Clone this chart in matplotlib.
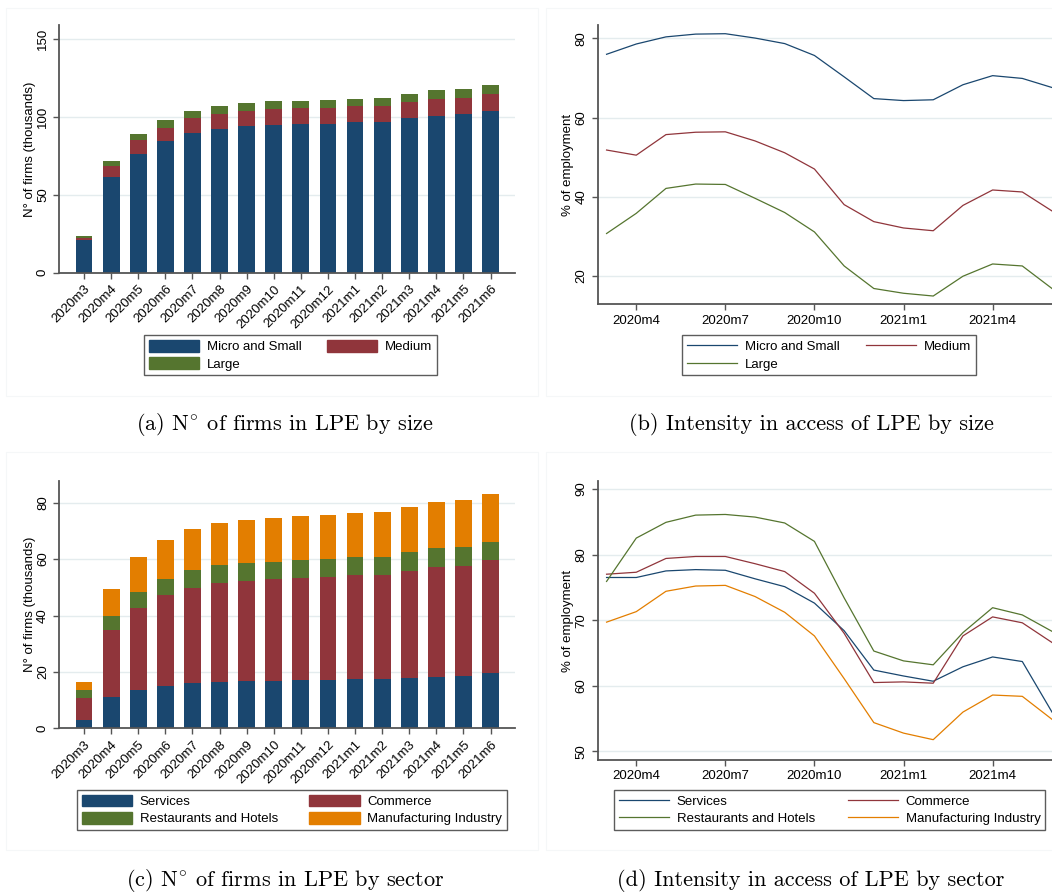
import numpy as np
import matplotlib
matplotlib.use('Agg')
import matplotlib.pyplot as plt

plt.rcParams['font.family'] = ['Liberation Sans', 'DejaVu Sans']
plt.rcParams['mathtext.fontset'] = 'cm'

months = ['2020m3', '2020m4', '2020m5', '2020m6', '2020m7', '2020m8', '2020m9',
          '2020m10', '2020m11', '2020m12', '2021m1', '2021m2', '2021m3',
          '2021m4', '2021m5', '2021m6']

# (a) cumulative tops of stacked bars, thousands of firms
size_micro_top = [20.9, 61.4, 76.2, 84.3, 89.6, 92.0, 93.9, 94.5, 95.2, 95.6, 96.4, 96.4, 99.2, 100.7, 101.6, 103.5]
size_medium_top = [22.4, 68.3, 84.9, 93.0, 99.2, 102.0, 103.5, 104.8, 105.4, 105.4, 106.7, 107.3, 109.7, 111.8, 112.4, 114.4]
size_large_top = [23.3, 71.5, 88.8, 97.7, 103.7, 106.7, 108.6, 109.9, 110.5, 110.7, 111.8, 112.4, 115.0, 117.1, 118.2, 120.3]

# (b) % of employment by size
int_micro = [76.0, 78.6, 80.4, 81.1, 81.2, 80.1, 78.7, 75.7, 70.3, 64.8, 64.3, 64.5, 68.3, 70.6, 69.9, 67.6]
int_medium = [51.8, 50.5, 55.7, 56.3, 56.4, 54.1, 51.1, 47.0, 38.0, 33.7, 32.1, 31.4, 37.8, 41.7, 41.2, 36.4]
int_large = [30.7, 35.8, 42.1, 43.2, 43.1, 39.6, 36.0, 31.1, 22.5, 16.8, 15.6, 14.9, 19.9, 23.0, 22.5, 16.8]

# (c) cumulative tops of stacked bars by sector
sec_services_top = [3.1, 11.1, 13.7, 15.1, 16.2, 16.5, 16.9, 16.9, 17.3, 17.3, 17.6, 17.6, 18.0, 18.2, 18.6, 19.7]
sec_commerce_top = [10.9, 34.9, 42.8, 47.3, 49.9, 51.7, 52.4, 53.1, 53.4, 53.7, 54.3, 54.5, 55.9, 57.3, 57.7, 59.7]
sec_rest_top = [13.5, 40.0, 48.3, 53.0, 56.1, 57.8, 58.6, 59.1, 59.7, 59.9, 60.6, 60.8, 62.5, 63.9, 64.3, 66.1]
sec_manuf_top = [16.4, 49.5, 60.8, 66.8, 70.7, 72.8, 73.9, 74.6, 75.3, 75.7, 76.4, 76.7, 78.5, 80.3, 81.0, 83.1]

# (d) % of employment by sector
int_services = [76.5, 76.5, 77.5, 77.7, 77.6, 76.3, 75.1, 72.6, 68.4, 62.4, 61.5, 60.7, 62.9, 64.4, 63.7, 56.0]
int_commerce = [77.0, 77.3, 79.4, 79.7, 79.7, 78.6, 77.4, 74.1, 68.0, 60.5, 60.6, 60.4, 67.6, 70.5, 69.6, 66.6]
int_rest = [75.9, 82.5, 84.9, 86.0, 86.1, 85.7, 84.8, 82.0, 73.4, 65.3, 63.8, 63.2, 68.1, 71.9, 70.8, 68.3]
int_manuf = [69.7, 71.3, 74.4, 75.2, 75.3, 73.6, 71.2, 67.6, 61.1, 54.4, 52.8, 51.8, 56.0, 58.6, 58.4, 54.9]

line_ticks = [1, 4, 7, 10, 13]

NAVY = '#1a476f'
MAROON = '#90353b'
GREEN = '#55752f'
ORANGE = '#e37e00'
GRID = '#e4ecee'
SPINE = '#555555'
FS = 9.5

x = np.arange(len(months))

fig = plt.figure(figsize=(10.52, 8.93), dpi=100)

# faint outer borders of each graph region
for x0, y0, w, h in [(6, 8, 532, 388), (546, 8, 520, 388), (6, 452, 532, 398), (546, 452, 520, 398)]:
    fig.patches.append(plt.Rectangle((x0 / 1052, 1 - (y0 + h) / 893), w / 1052, h / 893,
                                     transform=fig.transFigure, fill=False,
                                     edgecolor='#f5f7f8', lw=0.8))


def style(ax, yticks):
    for s in ['top', 'right']:
        ax.spines[s].set_visible(False)
    for s in ['left', 'bottom']:
        ax.spines[s].set_color(SPINE)
        ax.spines[s].set_linewidth(1.3)
    ax.set_yticks(yticks)
    ax.yaxis.grid(True, color=GRID, lw=1.0)
    ax.set_axisbelow(True)
    ax.tick_params(colors=SPINE, labelcolor='black', labelsize=FS, length=4, width=1)
    plt.setp(ax.get_yticklabels(), rotation=90, va='center')


def bars(ax, tops, colors):
    bottom = np.zeros(len(months))
    for top, c in zip(tops, colors):
        top = np.array(top)
        ax.bar(x, top - bottom, 0.62, bottom=bottom, color=c, lw=0)
        bottom = top
    ax.set_xlim(-0.91, 15.9)
    ax.set_xticks(x)
    ax.set_xticklabels(months, rotation=45, ha='right', rotation_mode='anchor')


def legend(handles, labels, box):
    fig.legend(handles, labels, loc='center', bbox_to_anchor=box, mode='expand', ncol=2,
               fontsize=FS, frameon=True, fancybox=False, edgecolor='#333333',
               handlelength=3.8, handleheight=1.0, labelspacing=0.3, borderpad=0.35,
               handletextpad=0.6, borderaxespad=0)


# (a)
ax1 = fig.add_axes([0.0564, 0.6947, 0.4331, 0.2773])
bars(ax1, [size_micro_top, size_medium_top, size_large_top], [NAVY, MAROON, GREEN])
ax1.set_ylim(0, 159)
style(ax1, [0, 50, 100, 150])
ax1.set_ylabel('N° of firms (thousands)', fontsize=FS, labelpad=1)
h = [plt.Rectangle((0, 0), 1, 1, color=c) for c in [NAVY, GREEN, MAROON]]
legend(h, ['Micro and Small', 'Large', 'Medium'], (0.1369, 0.578, 0.2785, 0.048))

# (b)
ax2 = fig.add_axes([0.5684, 0.6592, 0.4316, 0.3128])
ax2.plot(x, int_micro, color=NAVY, lw=0.9)
ax2.plot(x, int_medium, color=MAROON, lw=0.9)
ax2.plot(x, int_large, color=GREEN, lw=0.9)
ax2.set_xlim(-0.29, 15.0)
ax2.set_ylim(12.8, 83.4)
ax2.set_xticks(line_ticks)
ax2.set_xticklabels([months[i] for i in line_ticks])
style(ax2, [20, 40, 60, 80])
ax2.set_ylabel('% of employment', fontsize=FS, labelpad=1)
h = [plt.Line2D([], [], color=c, lw=0.9) for c in [NAVY, GREEN, MAROON]]
legend(h, ['Micro and Small', 'Large', 'Medium'], (0.6483, 0.578, 0.2795, 0.048))

# (c)
ax3 = fig.add_axes([0.0564, 0.1844, 0.4331, 0.2770])
bars(ax3, [sec_services_top, sec_commerce_top, sec_rest_top, sec_manuf_top],
     [NAVY, MAROON, GREEN, ORANGE])
ax3.set_ylim(0, 87.7)
style(ax3, [0, 20, 40, 60, 80])
ax3.set_ylabel('N° of firms (thousands)', fontsize=FS, labelpad=1)
h = [plt.Rectangle((0, 0), 1, 1, color=c) for c in [NAVY, GREEN, MAROON, ORANGE]]
legend(h, ['Services', 'Restaurants and Hotels', 'Commerce', 'Manufacturing Industry'],
       (0.0732, 0.0694, 0.4087, 0.047))

# (d)
ax4 = fig.add_axes([0.5684, 0.1489, 0.4316, 0.3125])
ax4.plot(x, int_services, color=NAVY, lw=0.9)
ax4.plot(x, int_commerce, color=MAROON, lw=0.9)
ax4.plot(x, int_rest, color=GREEN, lw=0.9)
ax4.plot(x, int_manuf, color=ORANGE, lw=0.9)
ax4.set_xlim(-0.29, 15.0)
ax4.set_ylim(48.7, 91.2)
ax4.set_xticks(line_ticks)
ax4.set_xticklabels([months[i] for i in line_ticks])
style(ax4, [50, 60, 70, 80, 90])
ax4.set_ylabel('% of employment', fontsize=FS, labelpad=1)
h = [plt.Line2D([], [], color=c, lw=0.9) for c in [NAVY, GREEN, MAROON, ORANGE]]
legend(h, ['Services', 'Restaurants and Hotels', 'Commerce', 'Manufacturing Industry'],
       (0.5837, 0.0694, 0.4097, 0.047))

# captions
cap = dict(fontsize=16, ha='center', va='center', family=['cmr10', 'DejaVu Serif'])
fig.text(0.271, 1 - 425 / 893, r'(a) N$^{\!\circ\!}$ of firms in LPE by size', **cap)
fig.text(0.771, 1 - 425 / 893, '(b) Intensity in access of LPE by size', **cap)
fig.text(0.271, 1 - 880 / 893, r'(c) N$^{\!\circ\!}$ of firms in LPE by sector', **cap)
fig.text(0.771, 1 - 880 / 893, '(d) Intensity in access of LPE by sector', **cap)

fig.savefig('out.png', dpi=100)
